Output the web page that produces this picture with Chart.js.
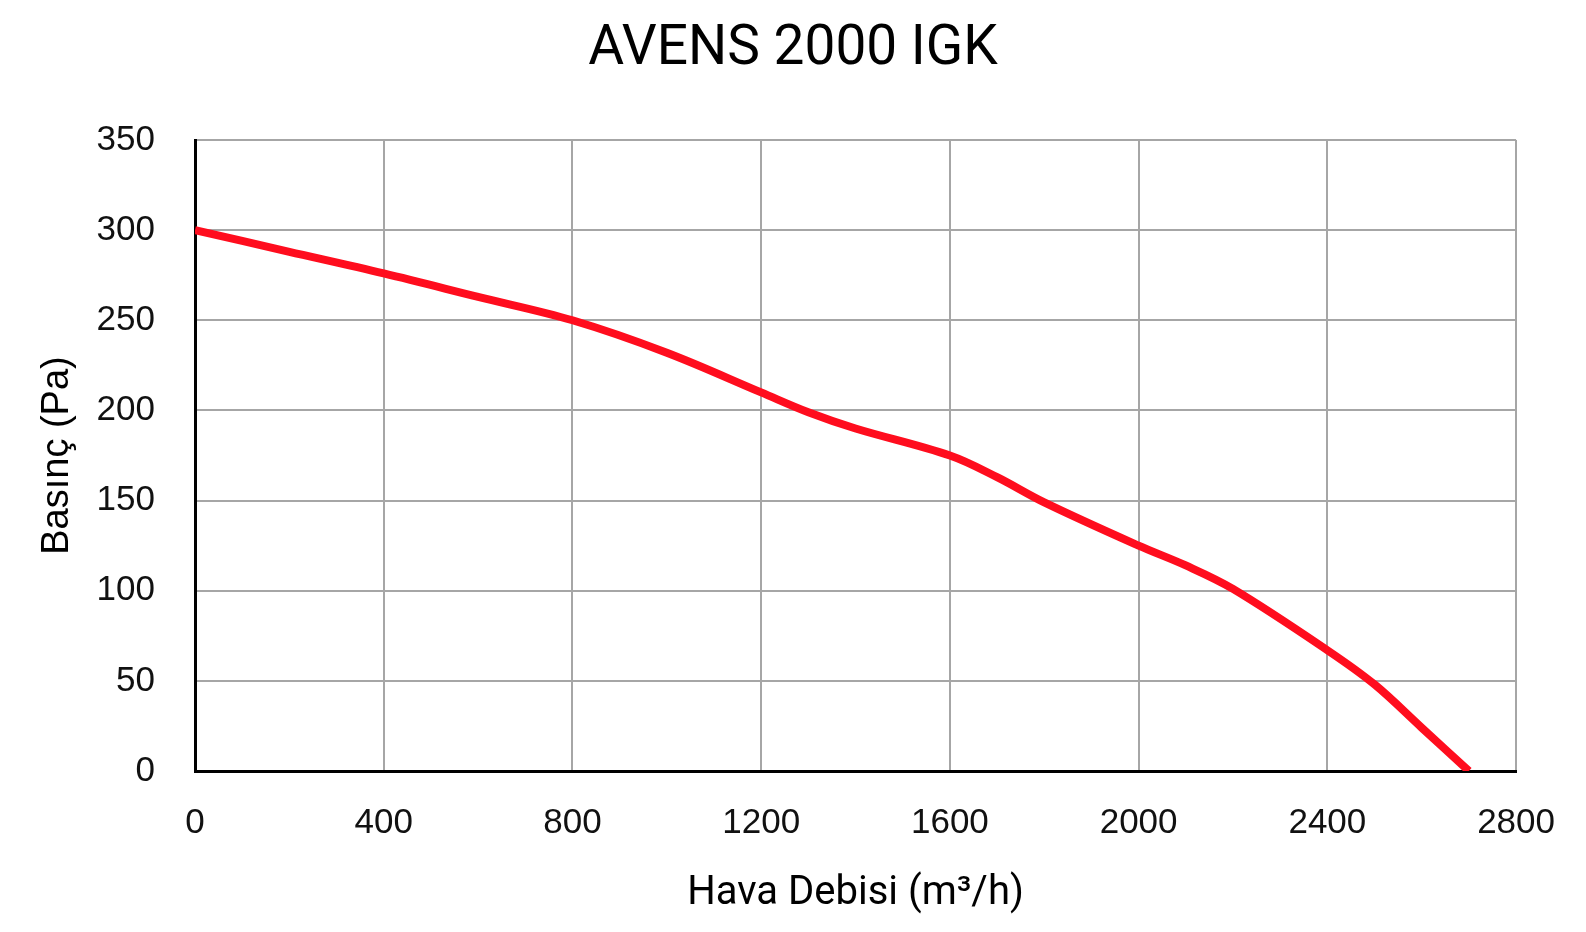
<!DOCTYPE html>
<html>
<head>
<meta charset="utf-8">
<script src="https://cdn.jsdelivr.net/npm/chart.js@4/dist/chart.umd.min.js"></script>
<style>
  html, body { margin: 0; padding: 0; background: #fff; }
  #wrap { width: 1586px; height: 932px; }
</style>
</head>
<body>
<div id="wrap"><canvas id="fanChart" width="1586" height="932"></canvas></div>
<script>
// air flow (m3/h) and static pressure (Pa)
var flow = [0, 200, 400, 600, 800, 1000, 1200, 1300, 1400, 1600, 1700, 1800, 2000, 2100, 2200, 2400, 2500, 2600, 2700];
var pressure = [300, 288, 276, 263, 250, 232, 210, 199, 190, 175, 163, 149, 125, 114, 101, 67, 48, 24, 0];

var xTicks = [0, 400, 800, 1200, 1600, 2000, 2400, 2800];
var yTicks = [0, 50, 100, 150, 200, 250, 300, 350];

var chartTitle = 'AVENS 2000 IGK';
var xTitle = 'Hava Debisi (m³/h)';
var yTitle = 'Basınç (Pa)';

var points = flow.map(function (f, i) {
    return { x: f, y: pressure[i] };
});

var tickFont = { family: '"Liberation Sans", Arial, sans-serif', size: 35 };
var gridColor = '#a6a6a6';
var plainNumber = function (v) { return String(v); };

var ctx = document.getElementById('fanChart').getContext('2d');
new Chart(ctx, {
    type: 'line',
    data: {
        datasets: [{
            label: chartTitle,
            data: points,
            borderColor: '#ff0d1e',
            borderWidth: 8,
            pointRadius: 0,
            fill: false,
            tension: 0.35
        }]
    },
    options: {
        responsive: false,
        animation: false,
        devicePixelRatio: 1,
        layout: { padding: { left: 24, right: 24, top: 0, bottom: 0 } },
        plugins: {
            legend: { display: false },
            tooltip: { enabled: false },
            title: {
                display: true,
                text: chartTitle,
                color: '#000',
                font: { family: 'Roboto, "Noto Sans", sans-serif', size: 55, weight: 'normal' },
                padding: { top: 17, bottom: 57 }
            }
        },
        scales: {
            x: {
                type: 'linear',
                min: xTicks[0],
                max: xTicks[xTicks.length - 1],
                afterBuildTicks: function (axis) {
                    axis.ticks = xTicks.map(function (v) { return { value: v }; });
                },
                afterFit: function (axis) { axis.height = 161; },
                grid: { color: gridColor, lineWidth: 2, drawTicks: false },
                border: { color: '#000', width: 3 },
                ticks: { color: '#111', font: tickFont, padding: 31, maxRotation: 0, callback: plainNumber },
                title: {
                    display: true,
                    text: xTitle,
                    color: '#000',
                    font: { family: 'Roboto, "Noto Sans", sans-serif', size: 40 },
                    padding: { top: 0, bottom: 14 }
                }
            },
            y: {
                type: 'linear',
                min: yTicks[0],
                max: yTicks[yTicks.length - 1],
                afterBuildTicks: function (axis) {
                    axis.ticks = yTicks.map(function (v) { return { value: v }; });
                },
                afterFit: function (axis) { axis.width = 171; },
                grid: { color: gridColor, lineWidth: 2, drawTicks: false },
                border: { color: '#000', width: 3 },
                ticks: { color: '#111', font: tickFont, padding: 40, callback: plainNumber },
                title: {
                    display: true,
                    text: yTitle,
                    color: '#000',
                    font: { family: '"Liberation Sans", Arial, sans-serif', size: 38 },
                    padding: { top: 11, bottom: 0 }
                }
            },
            // empty right-hand spacer so the title centres on the whole canvas
            spacer: {
                type: 'linear',
                position: 'right',
                display: true,
                grid: { display: false },
                border: { display: false },
                ticks: { display: false },
                afterFit: function (axis) { axis.width = 45; }
            }
        }
    }
});
</script>
</body>
</html>
